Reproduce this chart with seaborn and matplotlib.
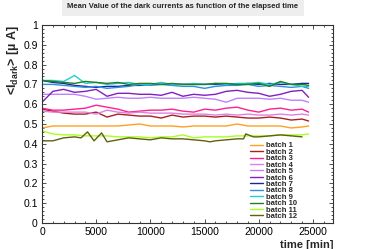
import numpy as np
import pandas as pd
import matplotlib
matplotlib.use("Agg")
import matplotlib.pyplot as plt
from matplotlib.ticker import MultipleLocator, FuncFormatter
import seaborn as sns

time_min = [0, 1000, 2000, 3000, 4000, 5000, 6000, 7000, 8000, 9000, 10000, 11000, 12000,
            13000, 14000, 15000, 16000, 17000, 18000, 19000, 20000, 21000, 22000, 23000, 24000, 24600]

batch1 = [0.48, 0.49, 0.49, 0.49, 0.49, 0.49, 0.49, 0.49, 0.495, 0.50, 0.49, 0.49, 0.49, 0.485, 0.49, 0.49, 0.49, 0.49, 0.50, 0.49, 0.49, 0.49, 0.49, 0.48, 0.485, 0.49]
batch2 = [0.575, 0.565, 0.555, 0.55, 0.55, 0.56, 0.535, 0.55, 0.545, 0.54, 0.54, 0.53, 0.545, 0.535, 0.54, 0.54, 0.535, 0.54, 0.535, 0.53, 0.53, 0.535, 0.53, 0.52, 0.525, 0.515]
batch3 = [0.58, 0.57, 0.57, 0.575, 0.58, 0.595, 0.585, 0.575, 0.56, 0.565, 0.57, 0.57, 0.575, 0.565, 0.56, 0.575, 0.57, 0.58, 0.585, 0.57, 0.56, 0.575, 0.58, 0.57, 0.575, 0.56]
batch4 = [0.565, 0.56, 0.56, 0.56, 0.56, 0.55, 0.57, 0.56, 0.555, 0.56, 0.555, 0.555, 0.555, 0.55, 0.55, 0.55, 0.545, 0.55, 0.545, 0.55, 0.545, 0.545, 0.55, 0.545, 0.55, 0.545]
batch5 = [0.65, 0.65, 0.65, 0.65, 0.64, 0.625, 0.63, 0.635, 0.63, 0.63, 0.635, 0.63, 0.63, 0.63, 0.635, 0.63, 0.625, 0.61, 0.63, 0.63, 0.63, 0.625, 0.63, 0.62, 0.62, 0.61]
batch6 = [0.61, 0.665, 0.675, 0.66, 0.665, 0.675, 0.64, 0.655, 0.655, 0.65, 0.65, 0.645, 0.66, 0.64, 0.65, 0.645, 0.65, 0.665, 0.67, 0.66, 0.655, 0.64, 0.65, 0.665, 0.67, 0.635]
batch7 = [0.72, 0.71, 0.705, 0.695, 0.69, 0.685, 0.69, 0.69, 0.695, 0.695, 0.70, 0.70, 0.70, 0.70, 0.70, 0.70, 0.70, 0.70, 0.70, 0.705, 0.70, 0.705, 0.70, 0.70, 0.705, 0.705]
batch8 = [0.70, 0.70, 0.695, 0.69, 0.685, 0.69, 0.68, 0.685, 0.69, 0.70, 0.695, 0.70, 0.695, 0.69, 0.69, 0.68, 0.69, 0.695, 0.695, 0.70, 0.69, 0.695, 0.69, 0.685, 0.69, 0.68]
batch9 = [0.72, 0.72, 0.715, 0.745, 0.705, 0.71, 0.70, 0.705, 0.71, 0.70, 0.70, 0.71, 0.70, 0.70, 0.705, 0.70, 0.705, 0.70, 0.705, 0.705, 0.71, 0.70, 0.71, 0.70, 0.69, 0.69]
batch10 = [0.72, 0.715, 0.71, 0.705, 0.715, 0.71, 0.705, 0.71, 0.70, 0.705, 0.705, 0.70, 0.705, 0.70, 0.70, 0.70, 0.705, 0.705, 0.70, 0.70, 0.705, 0.69, 0.715, 0.70, 0.70, 0.695]
batch11 = [0.465, 0.45, 0.445, 0.445, 0.44, 0.44, 0.44, 0.435, 0.435, 0.435, 0.43, 0.435, 0.435, 0.445, 0.43, 0.435, 0.435, 0.435, 0.44, 0.44, 0.44, 0.44, 0.445, 0.445, 0.445, 0.45]

time_b12 = [0, 1000, 2000, 3000, 3600, 4200, 4800, 5500, 6000, 7000, 8000, 9000, 10000, 11000, 12000,
            13000, 14000, 15000, 15500, 16000, 17000, 18000, 18600, 18800, 19500, 20000, 21000, 22000, 23000, 24000]
batch12 = [0.415, 0.415, 0.43, 0.435, 0.43, 0.46, 0.415, 0.455, 0.41, 0.42, 0.43, 0.425, 0.42, 0.43, 0.425,
           0.425, 0.42, 0.415, 0.41, 0.415, 0.42, 0.425, 0.425, 0.45, 0.435, 0.435, 0.44, 0.445, 0.44, 0.435]

labels = [f"batch {i}" for i in range(1, 13)]
colors = ["#FFA020", "#A82020", "#FF2090", "#E080E0", "#C080FF", "#8020C0",
          "#2020A0", "#3090E0", "#20D0D0", "#208020", "#A8FF20", "#606010"]

series = [batch1, batch2, batch3, batch4, batch5, batch6, batch7, batch8, batch9, batch10, batch11]

sns.set_theme(style="white")
plt.rcParams['font.family'] = ['Liberation Sans', 'DejaVu Sans']
plt.rcParams['mathtext.fontset'] = 'custom'
plt.rcParams['mathtext.rm'] = 'Liberation Sans:bold'
plt.rcParams['mathtext.it'] = 'Liberation Sans:bold'

fig = plt.figure(figsize=(3.66, 2.49), dpi=100)
ax = fig.add_axes([42/366, 1-223/249, (333-42)/366, (223-25)/249])

for vals, lab, col in zip(series, labels, colors):
    sns.lineplot(x=time_min, y=vals, ax=ax, color=col, lw=1.0, label=lab)
sns.lineplot(x=time_b12, y=batch12, ax=ax, color=colors[11], lw=1.0, label=labels[11])

ax.set_xlim(0, 26850)
ax.set_ylim(0, 1)
ax.xaxis.set_major_locator(MultipleLocator(5000))
ax.xaxis.set_minor_locator(MultipleLocator(1000))
ax.yaxis.set_major_locator(MultipleLocator(0.1))
ax.yaxis.set_minor_locator(MultipleLocator(0.02))
ax.yaxis.set_major_formatter(FuncFormatter(lambda v, p: f"{v:g}"))
ax.tick_params(which='both', direction='in', top=True, right=True, bottom=True, left=True,
               colors='#333333', labelcolor='black', labelsize=7.5, width=0.6, pad=3)
ax.tick_params(which='major', length=3.2)
ax.tick_params(which='minor', length=1.6)
for s in ax.spines.values():
    s.set_color('#333333')
    s.set_linewidth(0.8)

ax.set_xlabel("time [min]", fontsize=8, fontweight='bold', loc='right', labelpad=2)
ax.set_ylabel(r"<I$_{dark}$> [µ A]", fontsize=9, fontweight='bold', loc='top', labelpad=1.5)

leg = ax.legend(loc='upper left', bbox_to_anchor=(250/366, 1-142/249), bbox_transform=fig.transFigure,
                frameon=False, fontsize=5.5, handlelength=1.7, handletextpad=0.4,
                labelspacing=-0.12, borderpad=0, borderaxespad=0)
for t in leg.get_texts():
    t.set_fontweight('bold')

fig.text(0.5, 1-7/249, "Mean Value of the dark currents as function of the elapsed time",
         ha='center', va='center', fontsize=5.5, fontweight='bold',
         bbox=dict(facecolor='#EEEEEE', edgecolor='none', boxstyle='square,pad=0.7'))

fig.savefig("out.png", dpi=100)
